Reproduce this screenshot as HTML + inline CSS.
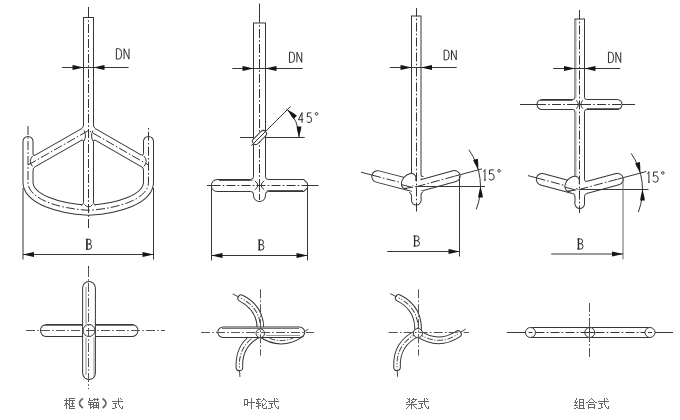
<!DOCTYPE html>
<html><head><meta charset="utf-8"><style>
html,body{margin:0;padding:0;background:#fff;width:680px;height:420px;overflow:hidden}
svg{display:block}
</style></head><body>
<svg width="680" height="420" viewBox="0 0 680 420">
<rect width="680" height="420" fill="#fff"/>
<path d="M28.0 141.5L28.0 182C28.0 199 58 208.5 88.5 210.3C119 208.5 148.5 199 148.5 182L148.5 141.5" fill="none" stroke="#363636" stroke-width="11" stroke-linecap="round" stroke-linejoin="round"/>
<path d="M28.0 165L88.5 130.5L148.5 165" fill="none" stroke="#363636" stroke-width="11" stroke-linecap="butt" stroke-linejoin="round"/>
<path d="M88.5 17V208" fill="none" stroke="#363636" stroke-width="11" stroke-linecap="butt" stroke-linejoin="round"/>
<path d="M28.0 141.5L28.0 182C28.0 199 58 208.5 88.5 210.3C119 208.5 148.5 199 148.5 182L148.5 141.5" fill="none" stroke="#fff" stroke-width="9" stroke-linecap="round" stroke-linejoin="round"/>
<path d="M28.0 165L88.5 130.5L148.5 165" fill="none" stroke="#fff" stroke-width="9" stroke-linecap="butt" stroke-linejoin="round"/>
<path d="M88.5 18V208" fill="none" stroke="#fff" stroke-width="9" stroke-linecap="butt" stroke-linejoin="round"/>
<path d="M83.5 125.1L84.3 124.8L85.39 128.69L81.46 129.68L81.33 128.83Z" fill="#fff"/>
<path d="M83.5 125.1Q83.5 127.6 81.33 128.83" fill="none" stroke="#363636"/>
<path d="M93.5 125.1L92.7 124.8L91.61 128.69L95.54 129.68L95.67 128.83Z" fill="#fff"/>
<path d="M93.5 125.1Q93.5 127.6 95.67 128.83" fill="none" stroke="#363636"/>
<path d="M83.5 141.61L84.3 141.91L84.6 137.22L80.67 139.8L81.33 140.35Z" fill="#fff"/>
<path d="M83.5 141.61Q83.5 139.11 81.33 140.35" fill="none" stroke="#363636"/>
<path d="M93.5 141.61L92.7 141.91L92.4 137.22L96.33 139.8L95.67 140.35Z" fill="#fff"/>
<path d="M93.5 141.61Q93.5 139.11 95.67 140.35" fill="none" stroke="#363636"/>
<path d="M33 153.89L32.2 153.59L31.9 158.28L35.83 155.7L35.17 155.15Z" fill="#fff"/>
<path d="M33 153.89Q33 156.39 35.17 155.15" fill="none" stroke="#363636"/>
<path d="M143.5 153.61L144.3 153.31L144.6 158L140.67 155.42L141.33 154.87Z" fill="#fff"/>
<path d="M143.5 153.61Q143.5 156.11 141.33 154.87" fill="none" stroke="#363636"/>
<path d="M33 170.4L32.2 170.7L31.11 166.81L35.04 165.82L35.17 166.67Z" fill="#fff"/>
<path d="M33 170.4Q33 167.9 35.17 166.67" fill="none" stroke="#363636"/>
<path d="M143.5 170.12L144.3 170.42L145.39 166.52L141.46 165.54L141.33 166.38Z" fill="#fff"/>
<path d="M143.5 170.12Q143.5 167.62 141.33 166.38" fill="none" stroke="#363636"/>
<path d="M83.5 202.6L84.3 202.3L85.15 206.65L80.75 206.07L81 205.25Z" fill="#fff"/>
<path d="M83.5 202.6Q83.5 205.1 81 205.25" fill="none" stroke="#363636"/>
<path d="M93.5 202.6L92.7 202.3L91.85 206.65L96.25 206.07L96 205.25Z" fill="#fff"/>
<path d="M93.5 202.6Q93.5 205.1 96 205.25" fill="none" stroke="#363636"/>
<path d="M84 130.5Q87 136 83.8 141.5" fill="none" stroke="#363636" stroke-width="1"/>
<path d="M93 130.5Q90 136 93.2 141.5" fill="none" stroke="#363636" stroke-width="1"/>
<path d="M84.5 204.5Q88.5 209.5 92.5 204.5" fill="none" stroke="#363636" stroke-width="1"/>
<path d="M32.6 156Q28 161.4 32.6 166.4" fill="none" stroke="#363636" stroke-width="1"/>
<path d="M143.9 156Q148.5 161.4 143.9 166.4" fill="none" stroke="#363636" stroke-width="1"/>
<line x1="88.5" y1="7" x2="88.5" y2="17.5" stroke="#363636" stroke-width="1"/>
<line x1="88.5" y1="17.5" x2="88.5" y2="230" stroke="#333" stroke-width="1" stroke-dasharray="9 2.2 1.6 2.2" stroke-dashoffset="8.5"/>
<line x1="88.5" y1="266" x2="88.5" y2="272" stroke="#333" stroke-width="1" stroke-dasharray="9 2.2 1.6 2.2" stroke-dashoffset="0"/>
<path d="M28.0 126L28.0 182C28.0 199 58 208.5 88.5 210.3C119 208.5 148.5 199 148.5 182L148.5 126" fill="none" stroke="#333" stroke-width="1" stroke-dasharray="9 2.2 1.6 2.2" stroke-dashoffset="0"/>
<path d="M28.0 165L88.5 130.5L148.5 165" fill="none" stroke="#333" stroke-width="1" stroke-dasharray="9 2.2 1.6 2.2" stroke-dashoffset="0"/>
<line x1="23" y1="188" x2="23" y2="259.5" stroke="#363636" stroke-width="1"/>
<line x1="153.5" y1="188" x2="153.5" y2="259.5" stroke="#363636" stroke-width="1"/>
<line x1="23" y1="254.5" x2="153.5" y2="254.5" stroke="#363636" stroke-width="1"/>
<path d="M23 254.5L30.5 252.63L34 252.1L34 256.9L30.5 256.37Z" fill="#151515"/>
<path d="M153.5 254.5L146 256.37L142.5 256.9L142.5 252.1L146 252.63Z" fill="#151515"/>
<path d="M85.80 239.21 L88.94 239.21 Q91.04 239.21 91.04 241.62 Q91.04 243.94 88.94 243.94 L86.94 243.94 M88.94 243.94 Q91.50 243.94 91.50 246.66 Q91.50 249.29 88.94 249.29 L85.80 249.29 M86.83 239.21 L86.83 249.29" fill="none" stroke="#2a2a2a" stroke-width="1.0" stroke-linejoin="round"/>
<line x1="87" y1="239" x2="87" y2="249.5" stroke="#2a2a2a" stroke-width="1.3"/>
<line x1="62" y1="67.5" x2="128.6" y2="67.5" stroke="#363636" stroke-width="1"/>
<path d="M83.5 67.5L76 69.37L72.5 69.9L72.5 65.1L76 65.63Z" fill="#151515"/>
<path d="M93.5 67.5L101 65.63L104.5 65.1L104.5 69.9L101 69.37Z" fill="#151515"/>
<path d="M116.37 48.70 L116.37 59.10 L118.57 59.10 Q121.53 59.10 121.53 55.15 L121.53 52.65 Q121.53 48.70 118.57 48.70 Z" fill="none" stroke="#2a2a2a" stroke-width="1.0" stroke-linejoin="round"/>
<path d="M124.05 59.10 L124.05 48.70 L129.03 59.10 L129.03 48.70" fill="none" stroke="#2a2a2a" stroke-width="1.0" stroke-linejoin="round"/>
<path d="M89.0 288V373" fill="none" stroke="#363636" stroke-width="13.8" stroke-linecap="round" stroke-linejoin="round"/>
<path d="M46.6 330.5H131.8" fill="none" stroke="#363636" stroke-width="13.2" stroke-linecap="round" stroke-linejoin="round"/>
<path d="M89.0 288V373" fill="none" stroke="#fff" stroke-width="11.8" stroke-linecap="round" stroke-linejoin="round"/>
<path d="M46.6 330.5H131.8" fill="none" stroke="#fff" stroke-width="11.2" stroke-linecap="round" stroke-linejoin="round"/>
<line x1="82.6" y1="324.5" x2="82.6" y2="336.5" stroke="#363636" stroke-width="1"/>
<line x1="95.4" y1="324.5" x2="95.4" y2="336.5" stroke="#363636" stroke-width="1"/>
<line x1="86" y1="287" x2="86" y2="324" stroke="#888" stroke-width="1"/>
<line x1="86" y1="337.5" x2="86" y2="375" stroke="#888" stroke-width="1"/>
<line x1="94" y1="337.5" x2="94" y2="376" stroke="#999" stroke-width="1"/>
<line x1="44" y1="325.5" x2="82" y2="325.5" stroke="#777" stroke-width="1"/>
<line x1="96" y1="325.5" x2="134" y2="325.5" stroke="#777" stroke-width="1"/>
<circle cx="89.0" cy="330.5" r="6" fill="none" stroke="#363636"/>
<line x1="26" y1="330.5" x2="165" y2="330.5" stroke="#555" stroke-width="1" stroke-dasharray="9 2.2 1.6 2.2" stroke-dashoffset="0"/>
<line x1="88.5" y1="268" x2="88.5" y2="389" stroke="#555" stroke-width="1" stroke-dasharray="9 2.2 1.6 2.2" stroke-dashoffset="0"/>
<path d="M66 398h1v1h-1zM69 398h6v1h-6zM89 398h1v1h-1zM94 398h1v1h-1zM97 398h1v1h-1zM118 398h1v1h-1zM120 398h1v1h-1zM66 399h1v1h-1zM69 399h1v1h-1zM89 399h1v1h-1zM93 399h6v1h-6zM118 399h1v1h-1zM121 399h1v1h-1zM64 400h11v1h-11zM89 400h4v1h-4zM94 400h1v1h-1zM97 400h1v1h-1zM118 400h1v1h-1zM66 401h1v1h-1zM69 401h1v1h-1zM72 401h1v1h-1zM88 401h1v1h-1zM112 401h11v1h-11zM66 402h1v1h-1zM69 402h1v1h-1zM72 402h1v1h-1zM88 402h11v1h-11zM118 402h1v1h-1zM65 403h3v1h-3zM69 403h1v1h-1zM71 403h3v1h-3zM90 403h1v1h-1zM93 403h1v1h-1zM96 403h1v1h-1zM98 403h1v1h-1zM113 403h4v1h-4zM118 403h1v1h-1zM65 404h2v1h-2zM68 404h2v1h-2zM72 404h1v1h-1zM88 404h6v1h-6zM96 404h1v1h-1zM98 404h1v1h-1zM115 404h1v1h-1zM118 404h1v1h-1zM64 405h1v1h-1zM66 405h1v1h-1zM69 405h1v1h-1zM72 405h1v1h-1zM90 405h1v1h-1zM93 405h6v1h-6zM115 405h1v1h-1zM119 405h1v1h-1zM66 406h1v1h-1zM69 406h6v1h-6zM90 406h1v1h-1zM92 406h2v1h-2zM96 406h1v1h-1zM98 406h1v1h-1zM115 406h1v1h-1zM119 406h1v1h-1zM122 406h1v1h-1zM66 407h1v1h-1zM69 407h1v1h-1zM90 407h2v1h-2zM93 407h6v1h-6zM115 407h2v1h-2zM120 407h1v1h-1zM122 407h1v1h-1zM66 408h1v1h-1zM69 408h6v1h-6zM90 408h1v1h-1zM93 408h1v1h-1zM98 408h1v1h-1zM112 408h3v1h-3zM121 408h2v1h-2z" fill="#666"/>
<path d="M83 398.5Q79.5 400.5 79.5 403.3Q79.5 406 83 408" fill="none" stroke="#666" stroke-width="1.6"/>
<path d="M102.5 398.5Q106 400.5 106 403.3Q106 406 102.5 408" fill="none" stroke="#666" stroke-width="1.6"/>
<path d="M259.5 22.5V195.5" fill="none" stroke="#363636" stroke-width="13" stroke-linecap="butt" stroke-linejoin="round"/>
<circle cx="259.5" cy="195.5" r="6.5" fill="#363636"/>
<path d="M217.3 180H303.5L307 183.5V187.5L303.5 191H217.3A5.5 5.5 0 0 1 217.3 180Z" fill="none" stroke="#363636" stroke-width="2"/>
<path d="M259.5 23.5V195.5" fill="none" stroke="#fff" stroke-width="11" stroke-linecap="butt" stroke-linejoin="round"/>
<circle cx="259.5" cy="195.5" r="5.5" fill="#fff"/>
<path d="M217.3 180H303.5L307 183.5V187.5L303.5 191H217.3A5.5 5.5 0 0 1 217.3 180Z" fill="#fff"/>
<line x1="219" y1="180.5" x2="253" y2="180.5" stroke="#555" stroke-width="1"/>
<line x1="266" y1="190.5" x2="303" y2="190.5" stroke="#555" stroke-width="1"/>
<path d="M253.5 176.7L254.3 176.4L255.1 181.1L250.4 180.3L250.7 179.5Z" fill="#fff"/>
<path d="M253.5 176.7Q253.5 179.5 250.7 179.5" fill="none" stroke="#363636"/>
<path d="M265.5 176.7L264.7 176.4L263.9 181.1L268.6 180.3L268.3 179.5Z" fill="#fff"/>
<path d="M265.5 176.7Q265.5 179.5 268.3 179.5" fill="none" stroke="#363636"/>
<path d="M253.5 194.3L254.3 194.6L255.1 189.9L250.4 190.7L250.7 191.5Z" fill="#fff"/>
<path d="M253.5 194.3Q253.5 191.5 250.7 191.5" fill="none" stroke="#363636"/>
<path d="M265.5 194.3L264.7 194.6L263.9 189.9L268.6 190.7L268.3 191.5Z" fill="#fff"/>
<path d="M265.5 194.3Q265.5 191.5 268.3 191.5" fill="none" stroke="#363636"/>
<path d="M254.8 180.8Q261 185.3 254.8 189.8" fill="none" stroke="#363636" stroke-width="1"/>
<path d="M264.2 180.8Q258 185.3 264.2 189.8" fill="none" stroke="#363636" stroke-width="1"/>
<line x1="259.5" y1="181" x2="259.5" y2="190" stroke="#363636" stroke-width="1"/>
<line x1="259.5" y1="3.5" x2="259.5" y2="22.5" stroke="#363636" stroke-width="1"/>
<line x1="259.5" y1="22.5" x2="259.5" y2="200" stroke="#333" stroke-width="1" stroke-dasharray="9 2.2 1.6 2.2" stroke-dashoffset="8.5"/>
<line x1="207" y1="185.5" x2="211.5" y2="185.5" stroke="#363636" stroke-width="1"/>
<line x1="307" y1="185.5" x2="318.5" y2="185.5" stroke="#363636" stroke-width="1"/>
<line x1="211.5" y1="185.5" x2="307" y2="185.5" stroke="#333" stroke-width="1" stroke-dasharray="9 2.2 1.6 2.2" stroke-dashoffset="0"/>
<g transform="translate(259.5 137.5) rotate(-45)"><rect x="-8.5" y="-3.2" width="17" height="6.4" rx="3.2" fill="#fff" stroke="#363636"/></g>
<line x1="240" y1="137.5" x2="253.5" y2="137.5" stroke="#363636" stroke-width="1"/>
<line x1="265.5" y1="137.5" x2="304.7" y2="137.5" stroke="#363636" stroke-width="1"/>
<line x1="251.3" y1="145.7" x2="290.7" y2="106.3" stroke="#363636" stroke-width="1"/>
<path d="M286.44 108.61A39.5 39.5 0 0 1 299 137.5" fill="none" stroke="#363636"/>
<path d="M287.43 109.57L294.06 113.55L296.91 115.65L293.51 119.04L291.41 116.2Z" fill="#151515"/>
<path d="M299 137.5L297.13 130L296.6 126.5L301.4 126.5L300.87 130Z" fill="#151515"/>
<path d="M302.00 122.80 L302.00 112.50 L298.50 119.71 L303.30 119.71" fill="none" stroke="#2a2a2a" stroke-width="1.0" stroke-linejoin="round"/>
<path d="M311.27 112.91 L307.56 112.91 L307.24 117.03 Q308.36 116.21 309.42 116.31 Q311.54 116.83 311.54 119.71 Q311.54 122.59 309.26 122.59 Q307.56 122.59 306.76 121.25" fill="none" stroke="#2a2a2a" stroke-width="1.0" stroke-linejoin="round"/>
<circle cx="316.50" cy="113.80" r="1.3" fill="none" stroke="#2a2a2a" stroke-width="0.9"/>
<line x1="232.3" y1="68.5" x2="302.7" y2="68.5" stroke="#363636" stroke-width="1"/>
<path d="M253.5 68.5L246 70.37L242.5 70.9L242.5 66.1L246 66.63Z" fill="#151515"/>
<path d="M265.5 68.5L273 66.63L276.5 66.1L276.5 70.9L273 70.37Z" fill="#151515"/>
<path d="M289.46 52.20 L289.46 62.40 L291.59 62.40 Q294.46 62.40 294.46 58.52 L294.46 56.08 Q294.46 52.20 291.59 52.20 Z" fill="none" stroke="#2a2a2a" stroke-width="1.0" stroke-linejoin="round"/>
<path d="M296.91 62.40 L296.91 52.20 L301.74 62.40 L301.74 52.20" fill="none" stroke="#2a2a2a" stroke-width="1.0" stroke-linejoin="round"/>
<line x1="211.5" y1="186" x2="211.5" y2="260.5" stroke="#363636" stroke-width="1"/>
<line x1="307.5" y1="186" x2="307.5" y2="260.5" stroke="#363636" stroke-width="1"/>
<line x1="211.5" y1="255.5" x2="307.5" y2="255.5" stroke="#363636" stroke-width="1"/>
<path d="M211.5 255.5L219 253.63L222.5 253.1L222.5 257.9L219 257.37Z" fill="#151515"/>
<path d="M307.5 255.5L300 257.37L296.5 257.9L296.5 253.1L300 253.63Z" fill="#151515"/>
<path d="M258.20 239.91 L261.33 239.91 Q263.44 239.91 263.44 242.32 Q263.44 244.63 261.33 244.63 L259.34 244.63 M261.33 244.63 Q263.90 244.63 263.90 247.36 Q263.90 249.99 261.33 249.99 L258.20 249.99 M259.23 239.91 L259.23 249.99" fill="none" stroke="#2a2a2a" stroke-width="1.0" stroke-linejoin="round"/>
<line x1="259.4" y1="239.7" x2="259.4" y2="250.2" stroke="#2a2a2a" stroke-width="1.3"/>
<path d="M416.25 15.5V200.3" fill="none" stroke="#363636" stroke-width="10.5" stroke-linecap="butt" stroke-linejoin="round"/>
<circle cx="416.25" cy="200.3" r="5.25" fill="#363636"/>
<path d="M377.6 176.5L416.5 186.7" fill="none" stroke="#363636" stroke-width="12.6" stroke-linecap="round" stroke-linejoin="round"/>
<path d="M416.5 186.7L454.5 176.2" fill="none" stroke="#363636" stroke-width="12.2" stroke-linecap="round" stroke-linejoin="round"/>
<path d="M416.25 16.5V200.3" fill="none" stroke="#fff" stroke-width="8.5" stroke-linecap="butt" stroke-linejoin="round"/>
<circle cx="416.25" cy="200.3" r="4.25" fill="#fff"/>
<path d="M377.6 176.5L416.5 186.7" fill="none" stroke="#fff" stroke-width="10.6" stroke-linecap="round" stroke-linejoin="round"/>
<path d="M416.5 186.7L454.5 176.2" fill="none" stroke="#fff" stroke-width="10.2" stroke-linecap="round" stroke-linejoin="round"/>
<line x1="416.5" y1="8" x2="416.5" y2="16" stroke="#363636" stroke-width="1"/>
<line x1="416.5" y1="16" x2="416.5" y2="212" stroke="#333" stroke-width="1" stroke-dasharray="9 2.2 1.6 2.2" stroke-dashoffset="8.5"/>
<line x1="361" y1="172.2" x2="372" y2="175.1" stroke="#363636" stroke-width="1"/>
<line x1="372" y1="175.1" x2="416.5" y2="186.7" stroke="#333" stroke-width="1" stroke-dasharray="9 2.2 1.6 2.2" stroke-dashoffset="0"/>
<line x1="416.5" y1="186.7" x2="454.5" y2="176.2" stroke="#333" stroke-width="1" stroke-dasharray="9 2.2 1.6 2.2" stroke-dashoffset="0"/>
<path d="M421 174.7L420.2 174.4L419.63 178.98L423.91 177.25L423.41 176.55Z" fill="#fff"/>
<path d="M421 174.7Q421 177.2 423.41 176.55" fill="none" stroke="#363636"/>
<path d="M421 194.8L420.2 195.1L419.22 190.93L423.5 190.8L423.41 191.65Z" fill="#fff"/>
<path d="M421 194.8Q421 192.3 423.41 191.65" fill="none" stroke="#363636"/>
<path d="M411.5 195.5L412.3 195.8L413.28 191.63L409 191.5L409.09 192.35Z" fill="#fff"/>
<path d="M411.5 195.5Q411.5 193 409.09 192.35" fill="none" stroke="#363636"/>
<ellipse cx="408.6" cy="181.2" rx="8.7" ry="5.9" transform="rotate(-48 408.6 181.2)" fill="#fff"/>
<line x1="401.5" y1="184.6" x2="411.5" y2="187.2" stroke="#363636" stroke-width="1"/>
<ellipse cx="408.6" cy="181.2" rx="8.7" ry="5.9" transform="rotate(-48 408.6 181.2)" fill="none" stroke="#363636" pathLength="100" stroke-dasharray="14 26 60"/>
<line x1="404" y1="188.5" x2="416.5" y2="186.7" stroke="#333" stroke-width="1" stroke-dasharray="9 2.2 1.6 2.2" stroke-dashoffset="0"/>
<line x1="416.5" y1="186.5" x2="485" y2="186.5" stroke="#363636" stroke-width="1"/>
<line x1="454.5" y1="176.2" x2="482" y2="168.9" stroke="#363636" stroke-width="1"/>
<path d="M468.93 149.79A64 64 0 0 1 476.25 209.44" fill="none" stroke="#363636"/>
<path d="M478.32 169.94L474.57 163.18L473.15 159.93L477.79 158.69L478.19 162.21Z" fill="#151515"/>
<path d="M480.5 186.5L482.37 194L482.9 197.5L478.1 197.5L478.63 194Z" fill="#151515"/>
<path d="M483.34 171.66 Q484.46 170.58 484.94 169.50 L484.94 180.30 M483.90 180.08 L485.86 180.08" fill="none" stroke="#2a2a2a" stroke-width="1.0" stroke-linejoin="round"/>
<path d="M493.90 169.93 L489.70 169.93 L489.34 174.25 Q490.60 173.39 491.80 173.50 Q494.20 174.04 494.20 177.06 Q494.20 180.08 491.62 180.08 Q489.70 180.08 488.80 178.68" fill="none" stroke="#2a2a2a" stroke-width="1.0" stroke-linejoin="round"/>
<circle cx="499.05" cy="170.80" r="1.3" fill="none" stroke="#2a2a2a" stroke-width="0.9"/>
<line x1="459.5" y1="176" x2="459.5" y2="256.5" stroke="#363636" stroke-width="1"/>
<line x1="387.3" y1="251.5" x2="459.5" y2="251.5" stroke="#363636" stroke-width="1"/>
<path d="M459.5 251.5L452 253.37L448.5 253.9L448.5 249.1L452 249.63Z" fill="#151515"/>
<path d="M413.40 235.91 L416.75 235.91 Q419.01 235.91 419.01 238.35 Q419.01 240.68 416.75 240.68 L414.62 240.68 M416.75 240.68 Q419.50 240.68 419.50 243.44 Q419.50 246.09 416.75 246.09 L413.40 246.09 M414.50 235.91 L414.50 246.09" fill="none" stroke="#2a2a2a" stroke-width="1.0" stroke-linejoin="round"/>
<line x1="414.6" y1="235.7" x2="414.6" y2="246.3" stroke="#2a2a2a" stroke-width="1.3"/>
<line x1="389.9" y1="67.5" x2="456.8" y2="67.5" stroke="#363636" stroke-width="1"/>
<path d="M411.5 67.5L404 69.37L400.5 69.9L400.5 65.1L404 65.63Z" fill="#151515"/>
<path d="M421 67.5L428.5 65.63L432 65.1L432 69.9L428.5 69.37Z" fill="#151515"/>
<path d="M444.15 50.10 L444.15 59.90 L446.25 59.90 Q449.08 59.90 449.08 56.18 L449.08 53.82 Q449.08 50.10 446.25 50.10 Z" fill="none" stroke="#2a2a2a" stroke-width="1.0" stroke-linejoin="round"/>
<path d="M451.49 59.90 L451.49 50.10 L456.25 59.90 L456.25 50.10" fill="none" stroke="#2a2a2a" stroke-width="1.0" stroke-linejoin="round"/>
<g transform="translate(417.9 333.1) rotate(0)"><path d="M0 0Q20 14 40 1" fill="none" stroke="#363636" stroke-width="7.6" stroke-linecap="round"/></g>
<g transform="translate(417.9 333.1) rotate(120)"><path d="M0 0Q20 14 40 1" fill="none" stroke="#363636" stroke-width="7.6" stroke-linecap="round"/></g>
<g transform="translate(417.9 333.1) rotate(240)"><path d="M0 0Q20 14 40 1" fill="none" stroke="#363636" stroke-width="7.6" stroke-linecap="round"/></g>
<g transform="translate(417.9 333.1) rotate(0)"><path d="M0 0Q20 14 40 1" fill="none" stroke="#fff" stroke-width="5.6" stroke-linecap="round"/><path d="M0 0Q20 14 40 1" fill="none" stroke="#333" stroke-width="0.9" stroke-dasharray="6 1.6 1.2 1.6"/><line x1="42" y1="-0.3" x2="48" y2="-4.2" stroke="#363636" stroke-width="0.9"/></g>
<g transform="translate(417.9 333.1) rotate(120)"><path d="M0 0Q20 14 40 1" fill="none" stroke="#fff" stroke-width="5.6" stroke-linecap="round"/><path d="M0 0Q20 14 40 1" fill="none" stroke="#333" stroke-width="0.9" stroke-dasharray="6 1.6 1.2 1.6"/><line x1="42" y1="-0.3" x2="48" y2="-4.2" stroke="#363636" stroke-width="0.9"/></g>
<g transform="translate(417.9 333.1) rotate(240)"><path d="M0 0Q20 14 40 1" fill="none" stroke="#fff" stroke-width="5.6" stroke-linecap="round"/><path d="M0 0Q20 14 40 1" fill="none" stroke="#333" stroke-width="0.9" stroke-dasharray="6 1.6 1.2 1.6"/><line x1="42" y1="-0.3" x2="48" y2="-4.2" stroke="#363636" stroke-width="0.9"/></g>
<circle cx="417.9" cy="333.1" r="4.6" fill="#fff" stroke="#363636"/>
<line x1="388.7" y1="332.5" x2="468.9" y2="332.5" stroke="#555" stroke-width="1" stroke-dasharray="9 2.2 1.6 2.2" stroke-dashoffset="0"/>
<line x1="418.5" y1="289.3" x2="418.5" y2="355.6" stroke="#555" stroke-width="1" stroke-dasharray="9 2.2 1.6 2.2" stroke-dashoffset="0"/>
<path d="M407 398h1v1h-1zM409 398h1v1h-1zM413 398h1v1h-1zM424 398h1v1h-1zM426 398h1v1h-1zM408 399h2v1h-2zM412 399h5v1h-5zM424 399h1v1h-1zM427 399h1v1h-1zM409 400h1v1h-1zM411 400h1v1h-1zM415 400h1v1h-1zM424 400h1v1h-1zM408 401h2v1h-2zM412 401h1v1h-1zM414 401h1v1h-1zM418 401h11v1h-11zM406 402h2v1h-2zM409 402h1v1h-1zM411 402h3v1h-3zM424 402h1v1h-1zM411 403h1v1h-1zM419 403h4v1h-4zM424 403h1v1h-1zM406 404h11v1h-11zM421 404h1v1h-1zM424 404h1v1h-1zM409 405h1v1h-1zM411 405h1v1h-1zM413 405h1v1h-1zM421 405h1v1h-1zM425 405h1v1h-1zM408 406h1v1h-1zM411 406h1v1h-1zM414 406h1v1h-1zM421 406h1v1h-1zM425 406h1v1h-1zM428 406h1v1h-1zM407 407h1v1h-1zM411 407h1v1h-1zM415 407h1v1h-1zM421 407h2v1h-2zM426 407h1v1h-1zM428 407h1v1h-1zM406 408h1v1h-1zM411 408h1v1h-1zM416 408h1v1h-1zM418 408h3v1h-3zM427 408h2v1h-2z" fill="#666"/>
<g transform="translate(260.3 333.3) rotate(0)"><path d="M0 0Q20 14 40 1" fill="none" stroke="#363636" stroke-width="7.6" stroke-linecap="round"/></g>
<g transform="translate(260.3 333.3) rotate(120)"><path d="M0 0Q20 14 40 1" fill="none" stroke="#363636" stroke-width="7.6" stroke-linecap="round"/></g>
<g transform="translate(260.3 333.3) rotate(240)"><path d="M0 0Q20 14 40 1" fill="none" stroke="#363636" stroke-width="7.6" stroke-linecap="round"/></g>
<g transform="translate(260.3 333.3) rotate(0)"><path d="M0 0Q20 14 40 1" fill="none" stroke="#fff" stroke-width="5.6" stroke-linecap="round"/><path d="M0 0Q20 14 40 1" fill="none" stroke="#333" stroke-width="0.9" stroke-dasharray="6 1.6 1.2 1.6"/><line x1="42" y1="-0.3" x2="48" y2="-4.2" stroke="#363636" stroke-width="0.9"/></g>
<g transform="translate(260.3 333.3) rotate(120)"><path d="M0 0Q20 14 40 1" fill="none" stroke="#fff" stroke-width="5.6" stroke-linecap="round"/><path d="M0 0Q20 14 40 1" fill="none" stroke="#333" stroke-width="0.9" stroke-dasharray="6 1.6 1.2 1.6"/><line x1="42" y1="-0.3" x2="48" y2="-4.2" stroke="#363636" stroke-width="0.9"/></g>
<g transform="translate(260.3 333.3) rotate(240)"><path d="M0 0Q20 14 40 1" fill="none" stroke="#fff" stroke-width="5.6" stroke-linecap="round"/><path d="M0 0Q20 14 40 1" fill="none" stroke="#333" stroke-width="0.9" stroke-dasharray="6 1.6 1.2 1.6"/><line x1="42" y1="-0.3" x2="48" y2="-4.2" stroke="#363636" stroke-width="0.9"/></g>
<path d="M223 327.5H299.5A4.75 4.75 0 0 1 299.5 337H223A4.75 4.75 0 0 1 223 327.5Z" fill="none" stroke="#363636" stroke-width="2"/>
<path d="M223 327.5H299.5A4.75 4.75 0 0 1 299.5 337H223A4.75 4.75 0 0 1 223 327.5Z" fill="#fff"/>
<line x1="222" y1="328.5" x2="299" y2="328.5" stroke="#777" stroke-width="1"/>
<line x1="266" y1="335.5" x2="300" y2="335.5" stroke="#999" stroke-width="1"/>
<circle cx="260.3" cy="333.3" r="4.3" fill="#fff" stroke="#363636"/>
<line x1="201" y1="332.5" x2="314" y2="332.5" stroke="#555" stroke-width="1" stroke-dasharray="9 2.2 1.6 2.2" stroke-dashoffset="0"/>
<line x1="260.5" y1="289.3" x2="260.5" y2="355.6" stroke="#555" stroke-width="1" stroke-dasharray="9 2.2 1.6 2.2" stroke-dashoffset="0"/>
<path d="M251 398h1v1h-1zM258 398h1v1h-1zM263 398h1v1h-1zM274 398h1v1h-1zM276 398h1v1h-1zM244 399h4v1h-4zM251 399h1v1h-1zM256 399h5v1h-5zM263 399h2v1h-2zM274 399h1v1h-1zM277 399h1v1h-1zM244 400h1v1h-1zM247 400h1v1h-1zM251 400h1v1h-1zM257 400h1v1h-1zM262 400h1v1h-1zM265 400h1v1h-1zM274 400h1v1h-1zM244 401h1v1h-1zM247 401h1v1h-1zM251 401h1v1h-1zM257 401h2v1h-2zM261 401h1v1h-1zM266 401h1v1h-1zM268 401h11v1h-11zM244 402h1v1h-1zM247 402h8v1h-8zM256 402h1v1h-1zM258 402h1v1h-1zM274 402h1v1h-1zM244 403h1v1h-1zM247 403h1v1h-1zM251 403h1v1h-1zM256 403h5v1h-5zM262 403h1v1h-1zM265 403h1v1h-1zM269 403h4v1h-4zM274 403h1v1h-1zM244 404h4v1h-4zM251 404h1v1h-1zM258 404h1v1h-1zM262 404h1v1h-1zM264 404h1v1h-1zM271 404h1v1h-1zM274 404h1v1h-1zM244 405h1v1h-1zM247 405h1v1h-1zM251 405h1v1h-1zM258 405h3v1h-3zM262 405h2v1h-2zM271 405h1v1h-1zM275 405h1v1h-1zM251 406h1v1h-1zM256 406h3v1h-3zM262 406h1v1h-1zM266 406h1v1h-1zM271 406h1v1h-1zM275 406h1v1h-1zM278 406h1v1h-1zM251 407h1v1h-1zM258 407h1v1h-1zM262 407h1v1h-1zM266 407h1v1h-1zM271 407h2v1h-2zM276 407h1v1h-1zM278 407h1v1h-1zM251 408h1v1h-1zM258 408h1v1h-1zM263 408h4v1h-4zM268 408h3v1h-3zM277 408h2v1h-2z" fill="#666"/>
<path d="M579.75 18.5V203.7" fill="none" stroke="#363636" stroke-width="10.5" stroke-linecap="butt" stroke-linejoin="round"/>
<circle cx="579.75" cy="203.7" r="5.25" fill="#363636"/>
<path d="M542 104.5H617" fill="none" stroke="#363636" stroke-width="11" stroke-linecap="round" stroke-linejoin="round"/>
<path d="M542.1 179.3L579.5 189.4" fill="none" stroke="#363636" stroke-width="12.6" stroke-linecap="round" stroke-linejoin="round"/>
<path d="M579.5 189.4L617.5 179.2" fill="none" stroke="#363636" stroke-width="12.6" stroke-linecap="round" stroke-linejoin="round"/>
<path d="M579.75 19.5V203.7" fill="none" stroke="#fff" stroke-width="8.5" stroke-linecap="butt" stroke-linejoin="round"/>
<circle cx="579.75" cy="203.7" r="4.25" fill="#fff"/>
<path d="M542 104.5H617" fill="none" stroke="#fff" stroke-width="9" stroke-linecap="round" stroke-linejoin="round"/>
<path d="M542.1 179.3L579.5 189.4" fill="none" stroke="#fff" stroke-width="10.6" stroke-linecap="round" stroke-linejoin="round"/>
<path d="M579.5 189.4L617.5 179.2" fill="none" stroke="#fff" stroke-width="10.6" stroke-linecap="round" stroke-linejoin="round"/>
<line x1="579.5" y1="10" x2="579.5" y2="19" stroke="#363636" stroke-width="1"/>
<line x1="579.5" y1="19" x2="579.5" y2="213" stroke="#333" stroke-width="1" stroke-dasharray="9 2.2 1.6 2.2" stroke-dashoffset="8.5"/>
<line x1="520" y1="104.5" x2="537" y2="104.5" stroke="#363636" stroke-width="1"/>
<line x1="622" y1="104.5" x2="635" y2="104.5" stroke="#363636" stroke-width="1"/>
<line x1="537" y1="104.5" x2="622" y2="104.5" stroke="#333" stroke-width="1" stroke-dasharray="9 2.2 1.6 2.2" stroke-dashoffset="0"/>
<line x1="540" y1="100.5" x2="572.5" y2="100.5" stroke="#666" stroke-width="1"/>
<line x1="586.5" y1="108.5" x2="619" y2="108.5" stroke="#666" stroke-width="1"/>
<line x1="576" y1="20" x2="576" y2="97.5" stroke="#aaa" stroke-width="1"/>
<line x1="576" y1="111.5" x2="576" y2="180" stroke="#aaa" stroke-width="1"/>
<path d="M575 97.3L575.8 97L576.6 101.1L572.5 100.3L572.8 99.5Z" fill="#fff"/>
<path d="M575 97.3Q575 99.5 572.8 99.5" fill="none" stroke="#363636"/>
<path d="M584.5 97.3L583.7 97L582.9 101.1L587 100.3L586.7 99.5Z" fill="#fff"/>
<path d="M584.5 97.3Q584.5 99.5 586.7 99.5" fill="none" stroke="#363636"/>
<path d="M575 111.7L575.8 112L576.6 107.9L572.5 108.7L572.8 109.5Z" fill="#fff"/>
<path d="M575 111.7Q575 109.5 572.8 109.5" fill="none" stroke="#363636"/>
<path d="M584.5 111.7L583.7 112L582.9 107.9L587 108.7L586.7 109.5Z" fill="#fff"/>
<path d="M584.5 111.7Q584.5 109.5 586.7 109.5" fill="none" stroke="#363636"/>
<path d="M576.4 100.3Q580.2 104.5 576.4 108.7" fill="none" stroke="#363636" stroke-width="1"/>
<path d="M582.8 100.3Q579 104.5 582.8 108.7" fill="none" stroke="#363636" stroke-width="1"/>
<line x1="574" y1="104.5" x2="585" y2="104.5" stroke="#363636" stroke-width="1"/>
<path d="M584.5 179.5L583.7 179.2L583.14 183.78L587.41 182.04L586.91 181.35Z" fill="#fff"/>
<path d="M584.5 179.5Q584.5 182 586.91 181.35" fill="none" stroke="#363636"/>
<path d="M584.5 196.55L583.7 196.85L582.72 192.69L587 192.55L586.91 193.4Z" fill="#fff"/>
<path d="M584.5 196.55Q584.5 194.05 586.91 193.4" fill="none" stroke="#363636"/>
<path d="M575 196.54L575.8 196.84L576.78 192.68L572.5 192.54L572.59 193.39Z" fill="#fff"/>
<path d="M575 196.54Q575 194.04 572.59 193.39" fill="none" stroke="#363636"/>
<line x1="528" y1="175.6" x2="536.5" y2="177.9" stroke="#363636" stroke-width="1"/>
<line x1="536.5" y1="177.9" x2="579.5" y2="189.4" stroke="#333" stroke-width="1" stroke-dasharray="9 2.2 1.6 2.2" stroke-dashoffset="0"/>
<line x1="579.5" y1="189.4" x2="617.5" y2="179.2" stroke="#333" stroke-width="1" stroke-dasharray="9 2.2 1.6 2.2" stroke-dashoffset="0"/>
<ellipse cx="572.1" cy="183.8" rx="8.7" ry="5.9" transform="rotate(-48 572.1 183.8)" fill="#fff"/>
<line x1="565" y1="187.2" x2="575" y2="189.8" stroke="#363636" stroke-width="1"/>
<ellipse cx="572.1" cy="183.8" rx="8.7" ry="5.9" transform="rotate(-48 572.1 183.8)" fill="none" stroke="#363636" pathLength="100" stroke-dasharray="14 26 60"/>
<line x1="567.5" y1="191.2" x2="579.5" y2="189.4" stroke="#333" stroke-width="1" stroke-dasharray="9 2.2 1.6 2.2" stroke-dashoffset="0"/>
<line x1="579.5" y1="189.5" x2="648.5" y2="189.5" stroke="#363636" stroke-width="1"/>
<line x1="617.5" y1="179.2" x2="646.3" y2="171.5" stroke="#363636" stroke-width="1"/>
<path d="M631.11 153.36A63 63 0 0 1 638.32 212.08" fill="none" stroke="#363636"/>
<path d="M640.35 173.19L636.6 166.43L635.19 163.19L639.82 161.95L640.22 165.47Z" fill="#151515"/>
<path d="M642.5 189.5L644.37 197L644.9 200.5L640.1 200.5L640.63 197Z" fill="#151515"/>
<path d="M647.43 173.76 Q648.47 172.68 648.91 171.60 L648.91 182.40 M647.95 182.18 L649.77 182.18" fill="none" stroke="#2a2a2a" stroke-width="1.0" stroke-linejoin="round"/>
<path d="M657.90 172.03 L653.70 172.03 L653.34 176.35 Q654.60 175.49 655.80 175.60 Q658.20 176.14 658.20 179.16 Q658.20 182.18 655.62 182.18 Q653.70 182.18 652.80 180.78" fill="none" stroke="#2a2a2a" stroke-width="1.0" stroke-linejoin="round"/>
<circle cx="662.80" cy="172.90" r="1.3" fill="none" stroke="#2a2a2a" stroke-width="0.9"/>
<line x1="623" y1="177" x2="623" y2="259.3" stroke="#666" stroke-width="1"/>
<line x1="551.2" y1="254" x2="623" y2="254" stroke="#363636" stroke-width="1"/>
<path d="M623 254L615.5 255.87L612 256.4L612 251.6L615.5 252.13Z" fill="#151515"/>
<path d="M577.30 238.91 L580.43 238.91 Q582.54 238.91 582.54 241.35 Q582.54 243.68 580.43 243.68 L578.44 243.68 M580.43 243.68 Q583.00 243.68 583.00 246.44 Q583.00 249.09 580.43 249.09 L577.30 249.09 M578.33 238.91 L578.33 249.09" fill="none" stroke="#2a2a2a" stroke-width="1.0" stroke-linejoin="round"/>
<line x1="578.5" y1="238.7" x2="578.5" y2="249.3" stroke="#2a2a2a" stroke-width="1.3"/>
<line x1="553.2" y1="68.5" x2="620.3" y2="68.5" stroke="#363636" stroke-width="1"/>
<path d="M575 68.5L567.5 70.37L564 70.9L564 66.1L567.5 66.63Z" fill="#151515"/>
<path d="M584.5 68.5L592 66.63L595.5 66.1L595.5 70.9L592 70.37Z" fill="#151515"/>
<path d="M608.46 52.20 L608.46 62.60 L610.59 62.60 Q613.46 62.60 613.46 58.65 L613.46 56.15 Q613.46 52.20 610.59 52.20 Z" fill="none" stroke="#2a2a2a" stroke-width="1.0" stroke-linejoin="round"/>
<path d="M615.91 62.60 L615.91 52.20 L620.74 62.60 L620.74 52.20" fill="none" stroke="#2a2a2a" stroke-width="1.0" stroke-linejoin="round"/>
<path d="M530.5 327.5H650M530.5 337.5H650" stroke="#363636"/>
<circle cx="530.5" cy="332.5" r="5" fill="#fff" stroke="#363636"/>
<circle cx="589.8" cy="332.5" r="5" fill="#fff" stroke="#363636"/>
<circle cx="650" cy="332.5" r="5" fill="#fff" stroke="#363636"/>
<line x1="507" y1="332.5" x2="525.5" y2="332.5" stroke="#363636" stroke-width="1"/>
<line x1="655" y1="332.5" x2="673" y2="332.5" stroke="#363636" stroke-width="1"/>
<line x1="535.5" y1="332.5" x2="645" y2="332.5" stroke="#333" stroke-width="1" stroke-dasharray="9 2.2 1.6 2.2" stroke-dashoffset="0"/>
<line x1="528.5" y1="332.5" x2="532.5" y2="332.5" stroke="#363636" stroke-width="1"/>
<line x1="648" y1="332.5" x2="652" y2="332.5" stroke="#363636" stroke-width="1"/>
<line x1="584.5" y1="332.5" x2="595" y2="332.5" stroke="#363636" stroke-width="1"/>
<line x1="589.5" y1="327" x2="589.5" y2="338" stroke="#363636" stroke-width="1"/>
<line x1="589.5" y1="303" x2="589.5" y2="357.7" stroke="#555" stroke-width="1" stroke-dasharray="9 2.2 1.6 2.2" stroke-dashoffset="0"/>
<path d="M576 398h1v1h-1zM591 398h1v1h-1zM604 398h1v1h-1zM606 398h1v1h-1zM576 399h1v1h-1zM579 399h5v1h-5zM590 399h1v1h-1zM592 399h1v1h-1zM604 399h1v1h-1zM607 399h1v1h-1zM575 400h1v1h-1zM579 400h1v1h-1zM583 400h1v1h-1zM589 400h1v1h-1zM593 400h1v1h-1zM604 400h1v1h-1zM575 401h1v1h-1zM577 401h1v1h-1zM579 401h1v1h-1zM583 401h1v1h-1zM588 401h1v1h-1zM594 401h1v1h-1zM598 401h11v1h-11zM574 402h3v1h-3zM579 402h5v1h-5zM586 402h2v1h-2zM589 402h5v1h-5zM595 402h2v1h-2zM604 402h1v1h-1zM576 403h1v1h-1zM579 403h1v1h-1zM583 403h1v1h-1zM599 403h4v1h-4zM604 403h1v1h-1zM575 404h1v1h-1zM579 404h1v1h-1zM583 404h1v1h-1zM588 404h7v1h-7zM601 404h1v1h-1zM604 404h1v1h-1zM574 405h4v1h-4zM579 405h5v1h-5zM588 405h1v1h-1zM594 405h1v1h-1zM601 405h1v1h-1zM605 405h1v1h-1zM579 406h1v1h-1zM583 406h1v1h-1zM588 406h1v1h-1zM594 406h1v1h-1zM601 406h1v1h-1zM605 406h1v1h-1zM608 406h1v1h-1zM576 407h2v1h-2zM579 407h1v1h-1zM583 407h1v1h-1zM588 407h7v1h-7zM601 407h2v1h-2zM606 407h1v1h-1zM608 407h1v1h-1zM574 408h2v1h-2zM578 408h7v1h-7zM588 408h1v1h-1zM594 408h1v1h-1zM598 408h3v1h-3zM607 408h2v1h-2z" fill="#666"/>
</svg></body></html>
